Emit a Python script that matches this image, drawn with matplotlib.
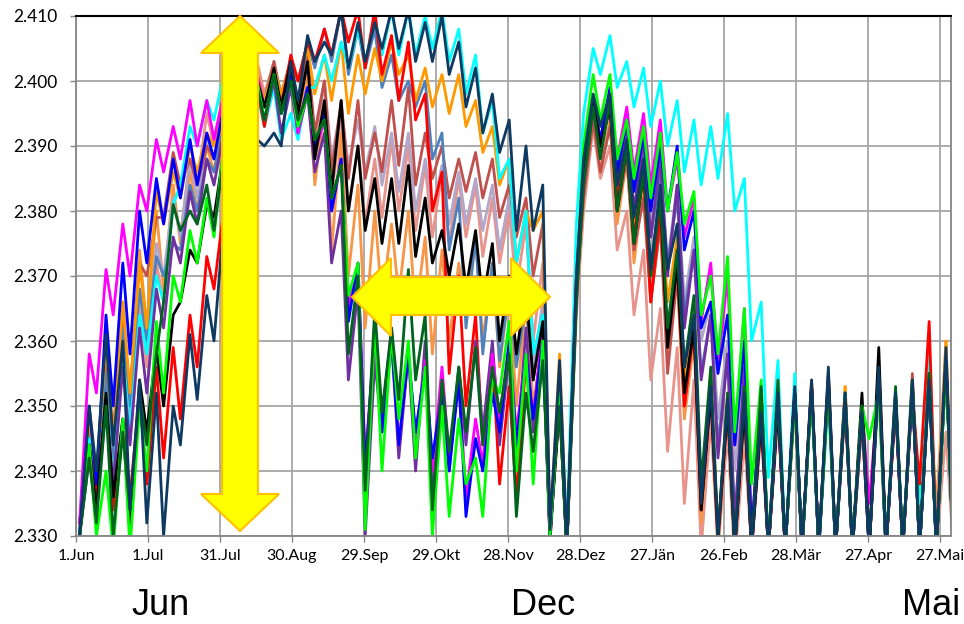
import numpy as np
import matplotlib.pyplot as plt
from matplotlib.patches import Polygon

# Werte in Tausendstel ueber 2.300, je Woche abwechselnd Tief / Hoch
navy = [30, 50, 40, 61, 44, 60, 34, 54, 32, 52, 30, 50, 44, 61, 51, 67, 60, 78, 75, 86,
        84, 91, 90, 92, 90, 103, 97, 107, 103, 106, 104, 111, 102, 109, 103, 109, 105, 111, 105, 111,
        103, 109, 103, 110, 101, 106, 96, 102, 92, 98, 89, 94, 77, 90, 77, 84, 31, 57, 29, 70,
        88, 98, 93, 98, 84, 91, 79, 88, 71, 84, 71, 78, 56, 64, 35, 53, 30, 51, 28, 52,
        28, 49, 28, 52, 28, 53, 28, 54, 28, 56, 28, 52, 28, 49, 28, 56, 28, 52, 28, 54,
        28, 54, 28, 59, 28, 50]
cyan = [30, 45, 34, 52, 38, 58, 46, 64, 58, 70, 66, 81, 84, 93, 90, 97, 94, 101, 98, 103,
        97, 98, 93, 99, 91, 95, 91, 99, 99, 104, 100, 106, 102, 108, 103, 110, 104, 111, 104, 111,
        104, 110, 105, 111, 103, 108, 98, 104, 92, 97, 85, 88, 72, 80, 58, 64, 30, 55, 30, 78,
        95, 105, 101, 107, 99, 103, 96, 102, 93, 100, 90, 97, 86, 94, 84, 93, 85, 95, 80, 85,
        60, 66, 39, 57, 28, 55, 28, 52, 28, 51, 28, 50, 28, 48, 28, 54, 28, 51, 28, 52,
        35, 60, 28, 56, 28, 50]
orange = [32, 48, 38, 60, 45, 66, 52, 72, 62, 83, 78, 86, 82, 90, 86, 92, 90, 96, 94, 99,
          96, 101, 97, 102, 98, 103, 100, 105, 98, 104, 97, 106, 95, 104, 98, 105, 100, 106, 101, 104,
          97, 102, 96, 101, 95, 101, 93, 97, 89, 93, 84, 88, 72, 80, 77, 80, 30, 58, 29, 72,
          86, 97, 91, 97, 82, 90, 77, 86, 70, 82, 66, 76, 54, 64, 35, 55, 30, 52, 28, 52,
          28, 50, 28, 51, 28, 53, 28, 54, 28, 55, 28, 53, 28, 50, 28, 57, 28, 51, 28, 53,
          29, 55, 28, 60, 28, 50]
steelblue = [31, 46, 36, 55, 42, 62, 50, 68, 60, 73, 70, 75, 74, 84, 80, 88, 86, 93, 90, 97,
             94, 100, 97, 102, 98, 103, 100, 106, 102, 108, 103, 111, 101, 108, 102, 108, 99, 104, 97, 100,
             96, 100, 88, 92, 74, 82, 62, 76, 58, 72, 57, 68, 56, 66, 54, 64, 30, 52, 29, 70,
             86, 97, 90, 96, 84, 92, 80, 90, 76, 86, 72, 82, 64, 74, 55, 64, 44, 58, 32, 55,
             28, 50, 28, 51, 28, 52, 28, 53, 28, 55, 28, 51, 28, 49, 28, 55, 28, 51, 28, 53,
             28, 54, 28, 58, 28, 50]
red = [32, 44, 36, 50, 34, 48, 36, 52, 38, 56, 42, 59, 48, 64, 56, 73, 68, 80, 80, 96,
       92, 99, 93, 101, 96, 104, 100, 106, 103, 108, 104, 111, 106, 111, 102, 111, 101, 107, 97, 106,
       94, 98, 80, 86, 55, 70, 50, 64, 44, 58, 38, 53, 36, 57, 48, 62, 29, 55, 28, 70,
       86, 96, 90, 96, 82, 90, 76, 86, 66, 80, 60, 72, 50, 62, 34, 52, 29, 50, 28, 50,
       28, 48, 28, 50, 28, 52, 28, 53, 28, 54, 28, 50, 28, 48, 28, 55, 28, 50, 28, 52,
       38, 63, 28, 57, 28, 50]
brown = [32, 45, 38, 56, 46, 64, 52, 72, 70, 79, 79, 89, 84, 88, 84, 90, 88, 95, 92, 98,
         95, 101, 97, 103, 97, 102, 96, 104, 92, 100, 86, 97, 85, 97, 85, 92, 86, 97, 87, 99,
         84, 92, 85, 90, 82, 88, 83, 89, 82, 88, 79, 84, 76, 82, 70, 78, 30, 52, 29, 68,
         82, 94, 86, 93, 80, 88, 74, 82, 66, 78, 55, 70, 50, 62, 34, 52, 29, 50, 28, 50,
         28, 49, 28, 50, 28, 52, 28, 53, 28, 55, 28, 51, 28, 48, 28, 55, 28, 52, 28, 55,
         30, 58, 28, 56, 28, 50]
salmon = [30, 44, 36, 56, 40, 60, 46, 66, 56, 72, 66, 82, 76, 88, 84, 95, 90, 98, 94, 102,
          97, 103, 98, 103, 98, 103, 96, 102, 90, 100, 82, 95, 80, 90, 78, 88, 79, 91, 80, 90,
          77, 87, 76, 86, 75, 85, 76, 84, 73, 82, 72, 80, 68, 78, 60, 72, 30, 50, 28, 64,
          80, 93, 85, 90, 74, 80, 64, 74, 54, 65, 43, 59, 35, 54, 28, 48, 28, 46, 26, 45,
          28, 46, 28, 48, 28, 50, 28, 54, 28, 52, 28, 50, 28, 48, 28, 53, 28, 50, 28, 53,
          33, 58, 28, 46, 28, 50]
lavender = [31, 46, 36, 54, 42, 62, 48, 68, 58, 75, 70, 82, 76, 88, 82, 91, 88, 96, 92, 99,
            95, 101, 97, 102, 98, 102, 96, 103, 92, 100, 88, 96, 87, 94, 86, 93, 84, 92, 83, 92,
            80, 88, 80, 87, 78, 86, 78, 85, 77, 84, 74, 82, 72, 80, 56, 66, 30, 50, 28, 68,
            84, 96, 89, 96, 84, 93, 80, 90, 76, 88, 72, 84, 66, 76, 60, 66, 48, 60, 40, 58,
            30, 52, 28, 52, 28, 53, 28, 52, 28, 55, 28, 52, 28, 50, 28, 55, 28, 52, 28, 53,
            28, 54, 28, 57, 28, 50]
black = [30, 44, 34, 52, 36, 48, 30, 54, 46, 59, 50, 64, 66, 74, 72, 81, 79, 89, 86, 96,
         94, 100, 96, 102, 96, 103, 95, 103, 88, 97, 83, 97, 80, 90, 77, 85, 75, 85, 75, 87,
         73, 82, 72, 77, 70, 78, 68, 77, 66, 75, 60, 70, 58, 68, 54, 63, 30, 50, 28, 68,
         86, 97, 90, 96, 80, 90, 75, 86, 71, 82, 59, 72, 52, 62, 34, 52, 30, 50, 28, 50,
         28, 48, 28, 50, 28, 52, 28, 53, 28, 54, 28, 51, 28, 52, 28, 59, 28, 51, 28, 53,
         28, 55, 28, 57, 28, 50]
lightorange = [30, 46, 36, 58, 42, 66, 50, 74, 62, 80, 68, 84, 75, 86, 80, 90, 86, 95, 91, 99,
               94, 100, 96, 102, 97, 102, 94, 101, 84, 96, 74, 92, 70, 84, 62, 80, 66, 78, 67, 80,
               64, 76, 58, 74, 60, 72, 64, 76, 60, 72, 56, 68, 50, 66, 50, 60, 30, 52, 28, 66,
               82, 94, 86, 94, 78, 88, 72, 84, 66, 78, 58, 70, 48, 60, 32, 52, 28, 50, 28, 50,
               28, 48, 28, 50, 28, 51, 28, 52, 28, 54, 28, 53, 28, 48, 28, 56, 28, 50, 28, 52,
               28, 54, 34, 60, 28, 50]
purple = [30, 42, 34, 50, 38, 56, 44, 62, 52, 68, 62, 76, 72, 83, 78, 88, 84, 92, 88, 96,
          92, 99, 94, 100, 92, 99, 92, 98, 86, 92, 72, 80, 54, 68, 30, 57, 46, 60, 42, 58,
          40, 60, 36, 54, 40, 56, 44, 60, 46, 60, 44, 58, 42, 62, 46, 60, 29, 52, 28, 66,
          84, 96, 89, 97, 84, 93, 80, 91, 76, 88, 70, 84, 62, 74, 54, 64, 42, 58, 32, 56,
          28, 51, 28, 52, 28, 52, 28, 53, 28, 54, 28, 52, 28, 50, 28, 55, 28, 51, 28, 53,
          28, 55, 28, 57, 28, 50]
darkgreen = [30, 42, 32, 50, 30, 46, 34, 52, 44, 58, 66, 81, 77, 80, 78, 84, 77, 88, 86, 96,
             92, 99, 94, 101, 95, 100, 94, 98, 91, 94, 82, 87, 58, 70, 37, 65, 49, 62, 51, 71,
             54, 64, 34, 54, 43, 56, 46, 59, 44, 56, 49, 58, 33, 52, 43, 57, 33, 50, 28, 66,
             84, 96, 88, 97, 80, 90, 75, 86, 70, 82, 62, 74, 56, 67, 38, 56, 30, 52, 28, 53,
             28, 53, 28, 54, 28, 52, 28, 53, 28, 54, 28, 51, 28, 50, 28, 55, 28, 53, 28, 54,
             28, 55, 28, 57, 28, 50]
lime = [30, 44, 30, 40, 28, 48, 28, 50, 40, 63, 52, 70, 66, 77, 72, 82, 76, 90, 86, 97,
        92, 100, 94, 101, 95, 100, 93, 98, 91, 94, 82, 87, 67, 72, 31, 63, 40, 61, 48, 60,
        42, 56, 30, 50, 33, 48, 38, 42, 33, 54, 52, 63, 40, 58, 38, 60, 30, 52, 28, 68,
        90, 101, 94, 101, 88, 94, 85, 93, 82, 92, 80, 89, 78, 83, 64, 70, 58, 73, 46, 65,
        38, 54, 28, 52, 28, 51, 28, 52, 28, 53, 28, 52, 28, 50, 45, 52, 28, 52, 28, 54,
        28, 55, 28, 56, 28, 50]
blue = [30, 50, 38, 64, 50, 72, 58, 80, 72, 85, 78, 88, 82, 91, 84, 92, 88, 96, 92, 99,
        95, 100, 96, 101, 95, 101, 93, 99, 90, 95, 80, 88, 63, 72, 40, 62, 46, 60, 44, 58,
        46, 56, 42, 52, 40, 54, 33, 45, 40, 52, 46, 60, 44, 58, 48, 60, 30, 52, 28, 68,
        86, 97, 91, 99, 86, 94, 83, 92, 80, 90, 80, 90, 74, 80, 62, 66, 55, 64, 44, 60,
        30, 52, 28, 51, 28, 52, 28, 53, 28, 54, 28, 52, 28, 50, 28, 55, 28, 51, 28, 53,
        28, 54, 28, 57, 28, 50]
magenta = [32, 58, 52, 71, 64, 78, 70, 84, 80, 91, 86, 93, 88, 97, 90, 97, 91, 98, 94, 100,
           96, 101, 96, 101, 95, 101, 92, 99, 89, 94, 80, 88, 65, 72, 42, 60, 48, 62, 44, 58,
           45, 57, 40, 56, 42, 54, 36, 48, 41, 58, 48, 60, 46, 58, 48, 62, 30, 52, 28, 68,
           86, 97, 90, 98, 88, 96, 86, 95, 84, 94, 80, 88, 76, 82, 63, 72, 56, 70, 44, 65,
           30, 52, 28, 50, 28, 52, 28, 53, 28, 53, 28, 51, 28, 50, 35, 53, 28, 51, 28, 53,
           28, 55, 28, 57, 28, 50]

# Tagesposition der Tief-/Hochpunkte (Tag 0 = 1.Jun)
weeks = np.arange(53)
days = np.column_stack([7 * weeks + 1.5, 7 * weeks + 5.5]).ravel()

tick_days = [0, 30, 60, 90, 120, 150, 180, 210, 240, 270, 300, 330, 360]
tick_labels = ['1.Jun', '1.Jul', '31.Jul', '30.Aug', '29.Sep', '29.Okt', '28.Nov',
               '28.Dez', '27.Jän', '26.Feb', '28.Mär', '27.Apr', '27.Mai']
y_ticks = [2.330, 2.340, 2.350, 2.360, 2.370, 2.380, 2.390, 2.400, 2.410]

series = [
    (salmon, '#E8948C'), (lightorange, '#F79646'), (lavender, '#B3A6C8'),
    (brown, '#C0504D'), (steelblue, '#4F81BD'), (orange, '#FF9900'),
    (cyan, '#00FFFF'), (red, '#FF0000'), (purple, '#7030A0'),
    (magenta, '#FF00FF'), (blue, '#0000FF'), (black, '#000000'),
    (lime, '#00FF00'), (darkgreen, '#00641E'), (navy, '#0E3A62'),
]

W, H = 964, 624
fig = plt.figure(figsize=(W / 100, H / 100), dpi=100)
ax = fig.add_axes([76 / W, 88 / H, (951 - 76) / W, (536 - 16) / H])

for vals, col in series:
    ax.plot(days, 2.3 + np.array(vals) / 1000, color=col, lw=2.0,
            solid_joinstyle='round')

ax.set_xlim(0, 364.6)
ax.set_ylim(2.330, 2.410)
ax.set_xticks(tick_days)
ax.set_xticklabels(tick_labels, fontsize=11.5, family='Lato')
ax.set_yticks(y_ticks)
ax.set_yticklabels(['%.3f' % v for v in y_ticks], fontsize=12.5, family='Lato')
ax.grid(True, color='#A6A6A6', lw=1.3)
ax.set_axisbelow(True)
ax.tick_params(direction='out', length=4.3, width=1, color='#868686')
ax.tick_params(axis='y', pad=9)
ax.tick_params(axis='x', pad=5)

for s in ['left', 'bottom', 'right']:
    ax.spines[s].set_color('#868686')
    ax.spines[s].set_linewidth(1.3)
ax.spines['top'].set_color('black')
ax.spines['top'].set_linewidth(1.5)

# gelbe Pfeile (Bildpixel)
def px(pts):
    return [(x / W, 1 - y / H) for x, y in pts]

arrow_v = [(240, 16), (279, 53), (258, 53), (258, 494), (279, 494), (240, 531),
           (201, 494), (222, 494), (222, 53), (201, 53)]
arrow_h = [(352, 297), (391, 258), (391, 277), (511, 277), (511, 258), (550, 297),
           (511, 336), (511, 315), (391, 315), (391, 336)]
for pts in [arrow_v, arrow_h]:
    fig.add_artist(Polygon(px(pts), closed=True, facecolor='#FFFF00',
                           edgecolor='#FFC000', lw=1.5, transform=fig.transFigure))

# Monatsnamen unten, ganz im Bild
for label, x0 in [('Jun', 131), ('Dec', 511), ('Mai', 902)]:
    fig.text(x0 / W, 1 / H, label, fontsize=26, family='Liberation Sans',
             ha='left', va='bottom')

plt.savefig('out.png', dpi=100)
